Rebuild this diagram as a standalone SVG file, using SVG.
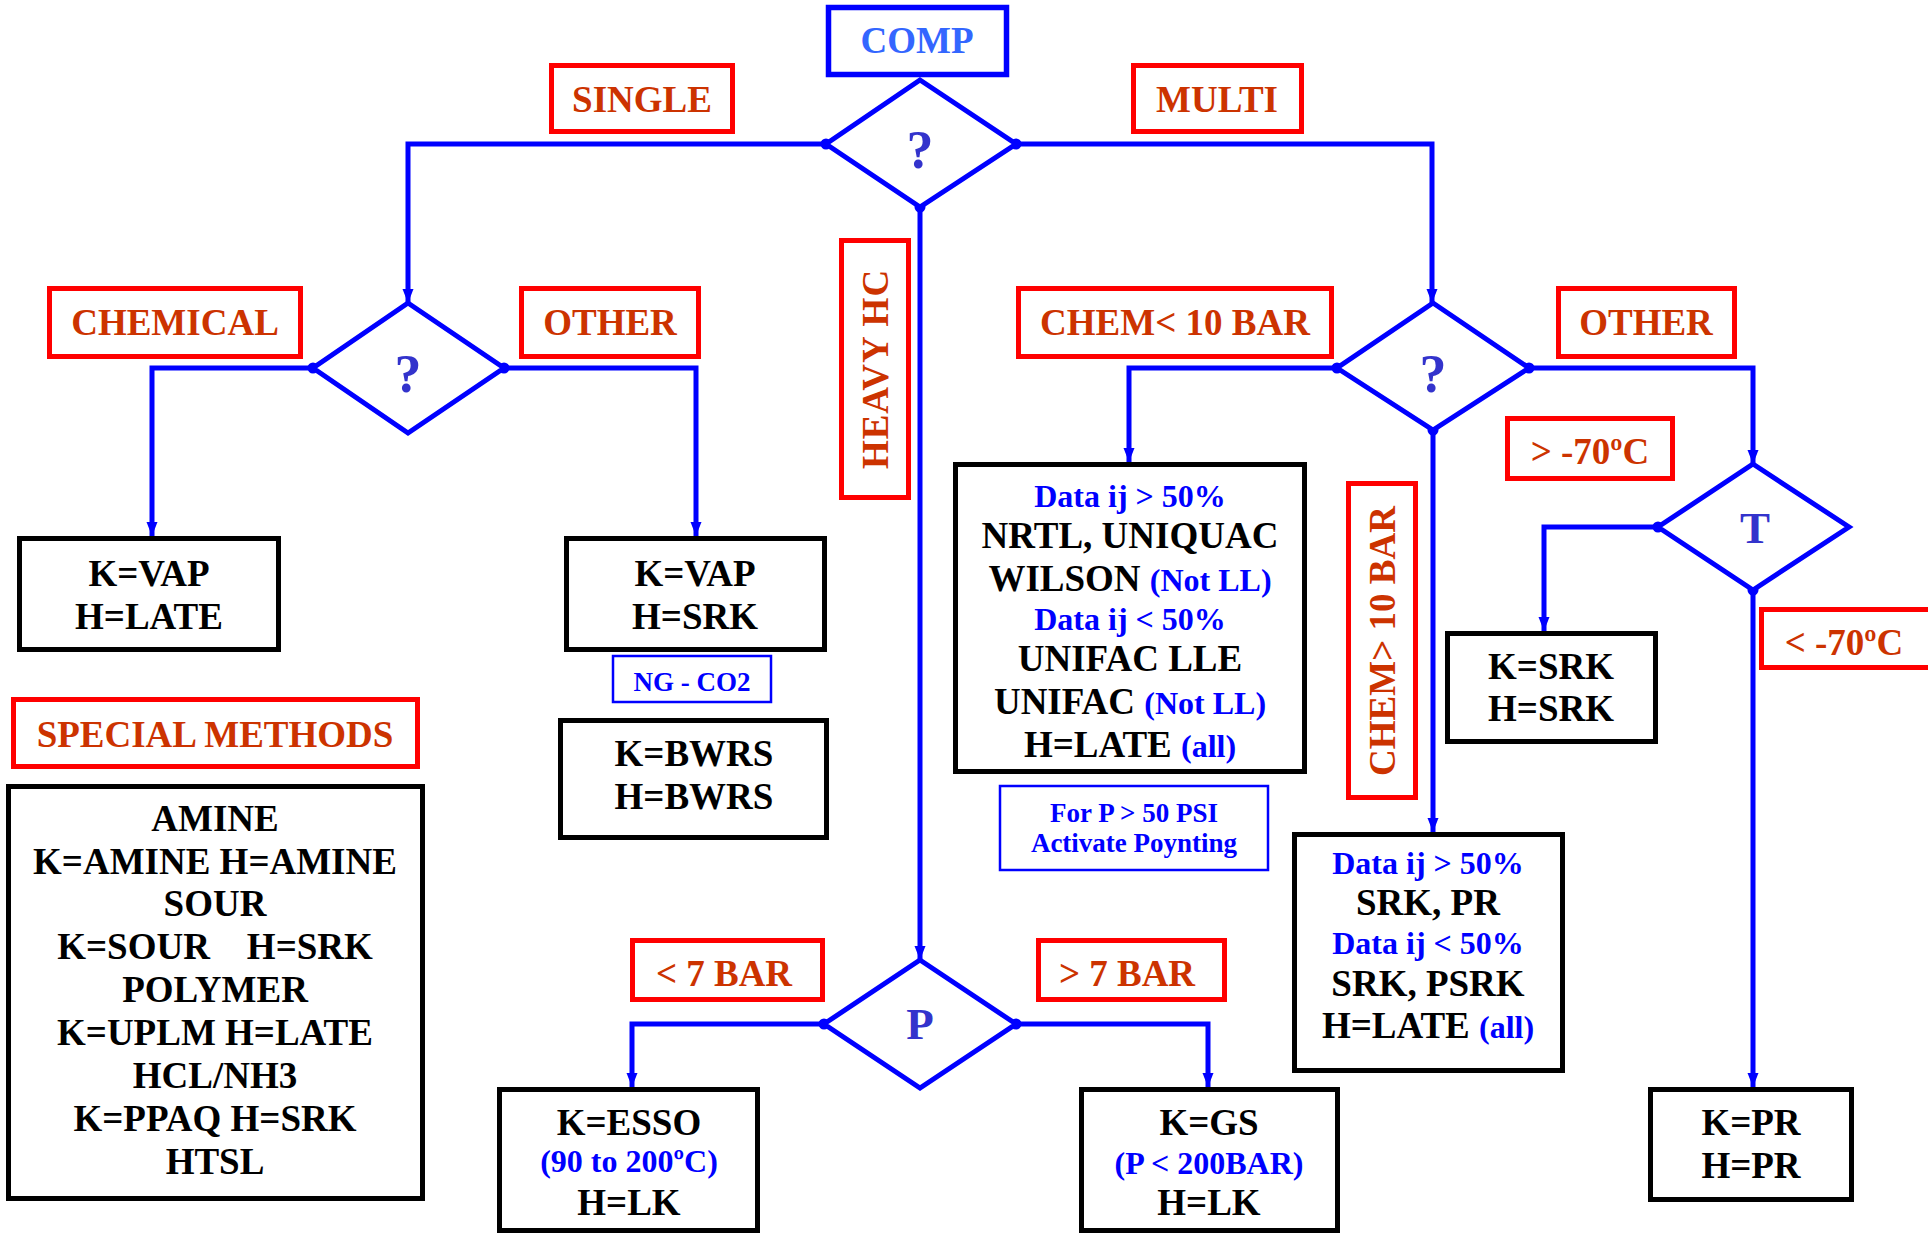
<svg xmlns="http://www.w3.org/2000/svg" width="1928" height="1234" viewBox="0 0 1928 1234">
  <defs>
    <marker id="arrow" markerUnits="userSpaceOnUse" markerWidth="14" markerHeight="12" refX="14" refY="6" orient="auto">
      <path d="M0,0.5 L14,6 L0,11.5 z" fill="#0000ff"/>
    </marker>
    <marker id="dot" markerUnits="userSpaceOnUse" markerWidth="12" markerHeight="12" refX="6" refY="6">
      <circle cx="6" cy="6" r="5.5" fill="#0000ff"/>
    </marker>
  </defs>
  <style>
    text { font-family: "Liberation Serif", "Times New Roman", serif; font-weight: bold; text-anchor: middle; }
    .box { fill: #ffffff; stroke: #000000; stroke-width: 5; }
    .label { fill: #ffffff; stroke: #ff0000; stroke-width: 5; }
    .note { fill: #ffffff; stroke: #0000ff; stroke-width: 2.5; }
    .decision { fill: #ffffff; stroke: #0000ff; stroke-width: 5; stroke-linejoin: miter; }
    .start { fill: #ffffff; stroke: #0000ff; stroke-width: 5.5; }
    .conn { fill: none; stroke: #0000ff; stroke-width: 5; marker-start: url(#dot); marker-end: url(#arrow); }
    .lt { fill: #cc3300; font-size: 37px; }
    .bt { fill: #000000; font-size: 37px; }
    .blue { fill: #0000ff; font-size: 32px; }
    .q { fill: #3333cc; font-size: 54px; }
    .pt { fill: #3333cc; font-size: 45px; }
    .small { fill: #0000ff; font-size: 27px; }
  </style>

  <!-- connectors -->
  <g id="connectors">
    <path class="conn" d="M826,144 H408 V303"/>
    <path class="conn" d="M1016,144 H1432 V303"/>
    <path class="conn" d="M920,207 V960"/>
    <path class="conn" d="M313,368 H152 V536"/>
    <path class="conn" d="M504,368 H696 V536"/>
    <path class="conn" d="M1337,368 H1129 V462"/>
    <path class="conn" d="M1529,368 H1753 V464"/>
    <path class="conn" d="M1433,430 V832"/>
    <path class="conn" d="M1658,527 H1544 V631"/>
    <path class="conn" d="M1753,590 V1087"/>
    <path class="conn" d="M824,1024 H632 V1087"/>
    <path class="conn" d="M1016,1024 H1208 V1087"/>
  </g>

  <!-- start node -->
  <g id="comp">
    <rect class="start" x="828.5" y="7.5" width="178" height="67"/>
    <text x="917" y="53" fill="#3366ff" style="font-size:37px">COMP</text>
  </g>

  <!-- decisions -->
  <g id="d-phase">
    <polygon class="decision" points="920,80 1016,144 920,207 826,144"/>
    <text class="q" x="920" y="168">?</text>
  </g>
  <g id="d-single">
    <polygon class="decision" points="408,303 504,368 408,433 313,368"/>
    <text class="q" x="408" y="392">?</text>
  </g>
  <g id="d-multi">
    <polygon class="decision" points="1433,303 1529,368 1433,430 1337,368"/>
    <text class="q" x="1433" y="392">?</text>
  </g>
  <g id="d-temp">
    <polygon class="decision" points="1753,464 1849,527 1753,590 1658,527"/>
    <text class="pt" x="1755" y="543">T</text>
  </g>
  <g id="d-press">
    <polygon class="decision" points="920,960 1016,1024 920,1088 824,1024"/>
    <text class="pt" x="920" y="1039">P</text>
  </g>

  <!-- branch labels -->
  <g id="l-single">
    <rect class="label" x="551.5" y="65.5" width="181" height="66"/>
    <text class="lt" x="642" y="112">SINGLE</text>
  </g>
  <g id="l-multi">
    <rect class="label" x="1133.5" y="65.5" width="168" height="66"/>
    <text class="lt" x="1217" y="112">MULTI</text>
  </g>
  <g id="l-chemical">
    <rect class="label" x="49.5" y="288.5" width="251" height="68"/>
    <text class="lt" x="175" y="335">CHEMICAL</text>
  </g>
  <g id="l-other-left">
    <rect class="label" x="521.5" y="288.5" width="177" height="68"/>
    <text class="lt" x="610" y="335">OTHER</text>
  </g>
  <g id="l-heavy-hc">
    <rect class="label" x="841.5" y="240.5" width="67" height="257"/>
    <text class="lt" transform="translate(888,369) rotate(-90)" letter-spacing="1">HEAVY HC</text>
  </g>
  <g id="l-chem-low">
    <rect class="label" x="1018.5" y="288.5" width="313" height="68"/>
    <text class="lt" x="1175" y="335">CHEM&lt; 10 BAR</text>
  </g>
  <g id="l-other-right">
    <rect class="label" x="1558.5" y="288.5" width="176" height="68"/>
    <text class="lt" x="1646" y="335">OTHER</text>
  </g>
  <g id="l-chem-high">
    <rect class="label" x="1348.5" y="483.5" width="67" height="314"/>
    <text class="lt" transform="translate(1395,641) rotate(-90)">CHEM&gt; 10 BAR</text>
  </g>
  <g id="l-warm">
    <rect class="label" x="1507.5" y="418.5" width="165" height="60"/>
    <text class="lt" x="1590" y="464">&gt; -70ºC</text>
  </g>
  <g id="l-cold">
    <rect class="label" x="1761.5" y="609.5" width="170" height="58"/>
    <text class="lt" x="1844" y="655">&lt; -70ºC</text>
  </g>
  <g id="l-low-p">
    <rect class="label" x="632.5" y="940.5" width="190" height="59"/>
    <text class="lt" x="724" y="986">&lt; 7 BAR</text>
  </g>
  <g id="l-high-p">
    <rect class="label" x="1038.5" y="940.5" width="186" height="59"/>
    <text class="lt" x="1127" y="986">&gt; 7 BAR</text>
  </g>
  <g id="l-special">
    <rect class="label" x="13.5" y="699.5" width="404" height="67"/>
    <text class="lt" x="215" y="747">SPECIAL METHODS</text>
  </g>

  <!-- result boxes -->
  <g id="r-vap-late">
    <rect class="box" x="19.5" y="538.5" width="259" height="111"/>
    <text class="bt" x="149" y="586">K=VAP</text>
    <text class="bt" x="149" y="629">H=LATE</text>
  </g>
  <g id="r-vap-srk">
    <rect class="box" x="566.5" y="538.5" width="258" height="111"/>
    <text class="bt" x="695" y="586">K=VAP</text>
    <text class="bt" x="695" y="629">H=SRK</text>
  </g>
  <g id="n-ng-co2">
    <rect class="note" x="613" y="656" width="158" height="46"/>
    <text class="small" x="692" y="691">NG - CO2</text>
  </g>
  <g id="r-bwrs">
    <rect class="box" x="560.5" y="720.5" width="266" height="117"/>
    <text class="bt" x="694" y="766">K=BWRS</text>
    <text class="bt" x="694" y="809">H=BWRS</text>
  </g>
  <g id="r-special">
    <rect class="box" x="8.5" y="786.5" width="414" height="412"/>
    <text class="bt" x="215" y="831">AMINE</text>
    <text class="bt" x="215" y="874">K=AMINE H=AMINE</text>
    <text class="bt" x="215" y="916">SOUR</text>
    <text class="bt" x="215" y="959" xml:space="preserve">K=SOUR    H=SRK</text>
    <text class="bt" x="215" y="1002">POLYMER</text>
    <text class="bt" x="215" y="1045">K=UPLM H=LATE</text>
    <text class="bt" x="215" y="1088">HCL/NH3</text>
    <text class="bt" x="215" y="1131">K=PPAQ H=SRK</text>
    <text class="bt" x="215" y="1174">HTSL</text>
  </g>
  <g id="r-esso">
    <rect class="box" x="499.5" y="1089.5" width="258" height="141"/>
    <text class="bt" x="629" y="1135">K=ESSO</text>
    <text class="blue" x="629" y="1172">(90 to 200ºC)</text>
    <text class="bt" x="629" y="1215">H=LK</text>
  </g>
  <g id="r-gs">
    <rect class="box" x="1081.5" y="1089.5" width="256" height="141"/>
    <text class="bt" x="1209" y="1135">K=GS</text>
    <text class="blue" x="1209" y="1174">(P &lt; 200BAR)</text>
    <text class="bt" x="1209" y="1215">H=LK</text>
  </g>
  <g id="r-activity">
    <rect class="box" x="955.5" y="464.5" width="349" height="307"/>
    <text class="blue" x="1130" y="507">Data ij &gt; 50%</text>
    <text class="bt" x="1130" y="548">NRTL, UNIQUAC</text>
    <text class="bt" x="1130" y="591">WILSON <tspan class="blue">(Not LL)</tspan></text>
    <text class="blue" x="1130" y="630">Data ij &lt; 50%</text>
    <text class="bt" x="1130" y="671">UNIFAC LLE</text>
    <text class="bt" x="1130" y="714">UNIFAC <tspan class="blue">(Not LL)</tspan></text>
    <text class="bt" x="1130" y="757">H=LATE <tspan class="blue">(all)</tspan></text>
  </g>
  <g id="n-poynting">
    <rect class="note" x="1000" y="786" width="268" height="84"/>
    <text class="small" x="1134" y="822">For P &gt; 50 PSI</text>
    <text class="small" x="1134" y="852">Activate Poynting</text>
  </g>
  <g id="r-eos-chem">
    <rect class="box" x="1294.5" y="834.5" width="268" height="236"/>
    <text class="blue" x="1428" y="874">Data ij &gt; 50%</text>
    <text class="bt" x="1428" y="915">SRK, PR</text>
    <text class="blue" x="1428" y="954">Data ij &lt; 50%</text>
    <text class="bt" x="1428" y="996">SRK, PSRK</text>
    <text class="bt" x="1428" y="1038">H=LATE <tspan class="blue">(all)</tspan></text>
  </g>
  <g id="r-srk">
    <rect class="box" x="1447.5" y="633.5" width="208" height="108"/>
    <text class="bt" x="1551" y="679">K=SRK</text>
    <text class="bt" x="1551" y="721">H=SRK</text>
  </g>
  <g id="r-pr">
    <rect class="box" x="1650.5" y="1089.5" width="201" height="110"/>
    <text class="bt" x="1751" y="1135">K=PR</text>
    <text class="bt" x="1751" y="1178">H=PR</text>
  </g>
</svg>
